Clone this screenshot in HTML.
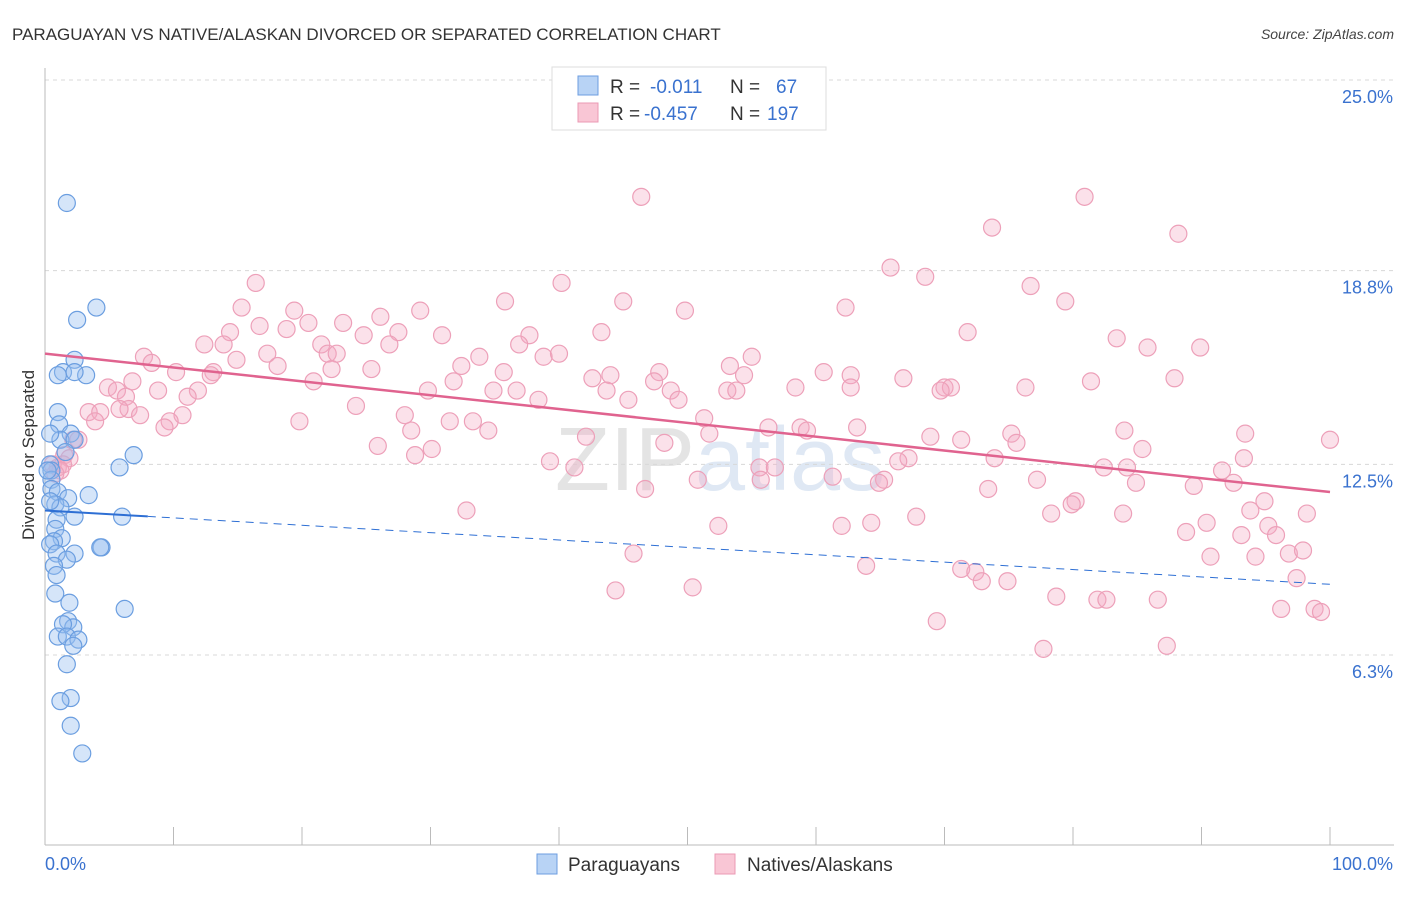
<!DOCTYPE html>
<html><head><meta charset="utf-8"><style>
body{margin:0;background:#fff;font-family:"Liberation Sans",sans-serif;}
svg text{font-family:"Liberation Sans",sans-serif;}
</style></head><body>
<svg id="chart" width="1406" height="892" xmlns="http://www.w3.org/2000/svg">
<text x="12" y="40" font-size="17" fill="#333">PARAGUAYAN VS NATIVE/ALASKAN DIVORCED OR SEPARATED CORRELATION CHART</text>
<text x="1394" y="39" font-size="14" fill="#444" text-anchor="end" font-style="italic">Source: ZipAtlas.com</text>
<text x="720" y="490" font-size="90" fill="#e8e8ee" text-anchor="middle" font-family="Liberation Serif"><tspan fill="#e4e4e4">ZIP</tspan><tspan fill="#dfe8f4" font-family="Liberation Sans">atlas</tspan></text>
<g id="grid"></g>
<g id="axes"></g>
<g id="pts"></g>
<g id="trends"></g>
<text transform="translate(34,455) rotate(-90)" font-size="17" fill="#333" text-anchor="middle">Divorced or Separated</text>
<g>
<rect x="552" y="67" width="274" height="63" fill="#fff" stroke="#ddd"/>
<rect x="578" y="76" width="20" height="19" fill="#b8d3f5" stroke="#6d9ee0"/>
<rect x="578" y="103" width="20" height="19" fill="#f9c6d5" stroke="#eb9ab4"/>
<text x="610" y="93" font-size="19" fill="#333">R = </text><text x="650" y="93" font-size="19" fill="#3a72cf">-0.011</text>
<text x="730" y="93" font-size="19" fill="#333">N = </text><text x="776" y="93" font-size="19" fill="#3a72cf">67</text>
<text x="610" y="120" font-size="19" fill="#333">R = </text><text x="644" y="120" font-size="19" fill="#3a72cf">-0.457</text>
<text x="730" y="120" font-size="19" fill="#333">N = </text><text x="767" y="120" font-size="19" fill="#3a72cf">197</text>
</g>
<g>
<rect x="537" y="854" width="20" height="20" fill="#b8d3f5" stroke="#6d9ee0"/>
<text x="568" y="871" font-size="19" fill="#333">Paraguayans</text>
<rect x="715" y="854" width="20" height="20" fill="#f9c6d5" stroke="#eb9ab4"/>
<text x="747" y="871" font-size="19" fill="#333">Natives/Alaskans</text>
</g>
</svg>
<script>
const yTicks=[25.0,18.8,12.5,6.3];
const yTickLabels=["25.0%","18.8%","12.5%","6.3%"];
const xTickLabels=["0.0%","100.0%"];
const blueX=[1.7,4.0,2.5,2.3,1.4,1.0,3.2,2.3,1.0,1.1,2.0,1.2,2.3,1.6,6.9,5.8,0.4,0.5,0.5,0.5,1.0,1.8,3.4,0.8,1.2,2.3,6.0,0.9,0.8,1.3,0.7,0.4,2.3,4.4,4.3,0.9,1.7,0.7,0.9,0.8,1.9,6.2,1.8,2.2,1.4,1.0,1.7,2.6,2.2,1.7,2.0,1.2,2.0,2.9,0.4,0.2,0.4];
const blueY=[21.0,17.6,17.2,15.9,15.5,15.4,15.4,15.5,14.2,13.8,13.5,13.3,13.3,12.9,12.8,12.4,12.5,12.3,12.0,11.7,11.6,11.4,11.5,11.2,11.1,10.8,10.8,10.7,10.4,10.1,10.0,9.9,9.6,9.8,9.8,9.6,9.4,9.2,8.9,8.3,8.0,7.8,7.4,7.2,7.3,6.9,6.9,6.8,6.6,6.0,4.9,4.8,4.0,3.1,13.5,12.3,11.3];
const pinkX=[46.4,80.9,73.7,88.2,65.8,68.5,16.4,40.2,76.7,35.8,45.0,79.4,15.3,19.4,29.2,49.8,62.3,26.1,20.5,23.2,16.7,14.4,18.8,27.5,30.9,37.7,43.3,71.8,24.8,83.4,12.4,13.9,21.5,26.8,36.9,89.9,85.8,17.3,22.0,22.7,33.8,38.8,40.0,55.0,7.7,8.3,14.9,18.1,53.3,32.4,35.7,10.2,13.1,25.4,22.3,47.8,60.6,62.7,42.6,44.0,54.4,66.8,87.9,31.8,47.4,81.4,6.8,20.9,12.9,4.9,58.4,62.7,76.3,70.0,29.8,34.9,36.7,43.7,48.7,53.1,70.5,53.8,69.7,11.9,5.6,6.3,8.8,11.1,38.4,45.4,49.3,24.2,6.5,3.4,4.3,5.8,28.0,7.4,10.7,51.3,19.8,31.5,3.9,9.7,33.3,28.5,9.3,34.5,51.7,56.3,58.8,59.3,63.2,84.0,93.4,42.1,75.2,68.9,71.3,100,2.2,2.6,48.2,75.6,25.9,30.1,85.4,28.8,1.5,1.9,93.3,67.2,66.4,73.9,39.3,1.0,1.4,0.6,1.2,41.2,55.6,56.8,82.4,84.2,91.6,0.8,61.3,55.7,50.8,77.2,65.3,92.5,64.9,84.9,46.7,73.4,89.4,80.2,79.9,94.9,32.8,78.3,83.9,93.8,98.2,67.8,52.4,62.0,64.3,95.2,90.4,95.8,88.8,93.1,90.7,94.2,96.8,97.9,45.8,63.9,71.3,72.4,72.9,74.9,97.4,44.4,50.4,78.7,81.9,82.6,86.6,96.2,98.8,99.3,69.4,77.7,87.3];
const pinkY=[21.2,21.2,20.2,20.0,18.9,18.6,18.4,18.4,18.3,17.8,17.8,17.8,17.6,17.5,17.5,17.5,17.6,17.3,17.1,17.1,17.0,16.8,16.9,16.8,16.7,16.7,16.8,16.8,16.7,16.6,16.4,16.4,16.4,16.4,16.4,16.3,16.3,16.1,16.1,16.1,16.0,16.0,16.1,16.0,16.0,15.8,15.9,15.7,15.7,15.7,15.5,15.5,15.5,15.6,15.6,15.5,15.5,15.4,15.3,15.4,15.4,15.3,15.3,15.2,15.2,15.2,15.2,15.2,15.4,15.0,15.0,15.0,15.0,15.0,14.9,14.9,14.9,14.9,14.9,14.9,15.0,14.9,14.9,14.9,14.9,14.7,14.9,14.7,14.6,14.6,14.6,14.4,14.3,14.2,14.2,14.3,14.1,14.1,14.1,14.0,13.9,13.9,13.9,13.9,13.9,13.6,13.7,13.6,13.5,13.7,13.7,13.6,13.7,13.6,13.5,13.4,13.5,13.4,13.3,13.3,13.3,13.3,13.2,13.2,13.1,13.0,13.0,12.8,12.8,12.7,12.7,12.7,12.6,12.7,12.6,12.4,12.5,12.5,12.3,12.4,12.4,12.4,12.4,12.4,12.3,12.2,12.1,12.0,12.0,12.0,12.0,11.9,11.9,11.9,11.7,11.7,11.8,11.3,11.2,11.3,11.0,10.9,10.9,11.0,10.9,10.8,10.5,10.5,10.6,10.5,10.6,10.2,10.3,10.2,9.5,9.5,9.6,9.7,9.6,9.2,9.1,9.0,8.7,8.7,8.8,8.4,8.5,8.2,8.1,8.1,8.1,7.8,7.8,7.7,7.4,6.5,6.6];
const blueTrend=[11.0,8.6]; // y at x=0 and x=100
const blueSolidEnd=8;
const pinkTrend=[16.1,11.6];

const NS="http://www.w3.org/2000/svg";
const X0=45,X1=1330,YTOP=80,YPER=30.75;
const sx=v=>X0+v*(X1-X0)/100;
const sy=v=>YTOP+(25-v)*YPER;
function mk(tag,attrs,parent){const e=document.createElementNS(NS,tag);for(const k in attrs)e.setAttribute(k,attrs[k]);parent.appendChild(e);return e;}
const grid=document.getElementById('grid'),axes=document.getElementById('axes'),pts=document.getElementById('pts'),tr=document.getElementById('trends');
yTicks.forEach((t,i)=>{
 const l=mk('line',{x1:45,x2:1394,y1:sy(t),y2:sy(t),stroke:'#d8d8d8','stroke-dasharray':'4,4'},grid);
 
 
 const tx=mk('text',{x:1393,y:sy(t)+23,'font-size':18,fill:'#3a72cf','text-anchor':'end'},axes);
 tx.textContent=yTickLabels[i];
 
 
});
const ya=mk('line',{x1:45,x2:45,y1:68,y2:845,stroke:'#bbb'},axes);


const xa=mk('line',{x1:45,x2:1394,y1:845,y2:845,stroke:'#bbb'},axes);


for(let i=0;i<=10;i++){
 const t=mk('line',{x1:sx(i*10),x2:sx(i*10),y1:827,y2:845,stroke:'#bbb'},axes);
 
 
}
const xl0=mk('text',{x:45,y:870,'font-size':18,fill:'#3a72cf'},axes);xl0.textContent=xTickLabels[0];


const xl1=mk('text',{x:1393,y:870,'font-size':18,fill:'#3a72cf','text-anchor':'end'},axes);xl1.textContent=xTickLabels[1];


pinkX.forEach((v,i)=>{
 const c=mk('circle',{cx:sx(v),cy:sy(pinkY[i]),r:8.5,fill:'rgba(244,170,195,0.35)',stroke:'#eda0b9','stroke-width':1.2},pts);
 
 
});
blueX.forEach((v,i)=>{
 const c=mk('circle',{cx:sx(v),cy:sy(blueY[i]),r:8.5,fill:'rgba(150,190,240,0.4)',stroke:'#6b9ee0','stroke-width':1.2},pts);
 
 
});
const by=x=>blueTrend[0]+(blueTrend[1]-blueTrend[0])*x/100;
const b1=mk('line',{x1:sx(0),y1:sy(by(0)),x2:sx(blueSolidEnd),y2:sy(by(blueSolidEnd)),stroke:'#2e6fd4','stroke-width':2},tr);


const b2=mk('line',{x1:sx(blueSolidEnd),y1:sy(by(blueSolidEnd)),x2:sx(100),y2:sy(by(100)),stroke:'#2e6fd4','stroke-width':1,'stroke-dasharray':'8,6'},tr);


const p1=mk('line',{x1:sx(0),y1:sy(pinkTrend[0]),x2:sx(100),y2:sy(pinkTrend[1]),stroke:'#e0638f','stroke-width':2.5},tr);


</script>
</body></html>
